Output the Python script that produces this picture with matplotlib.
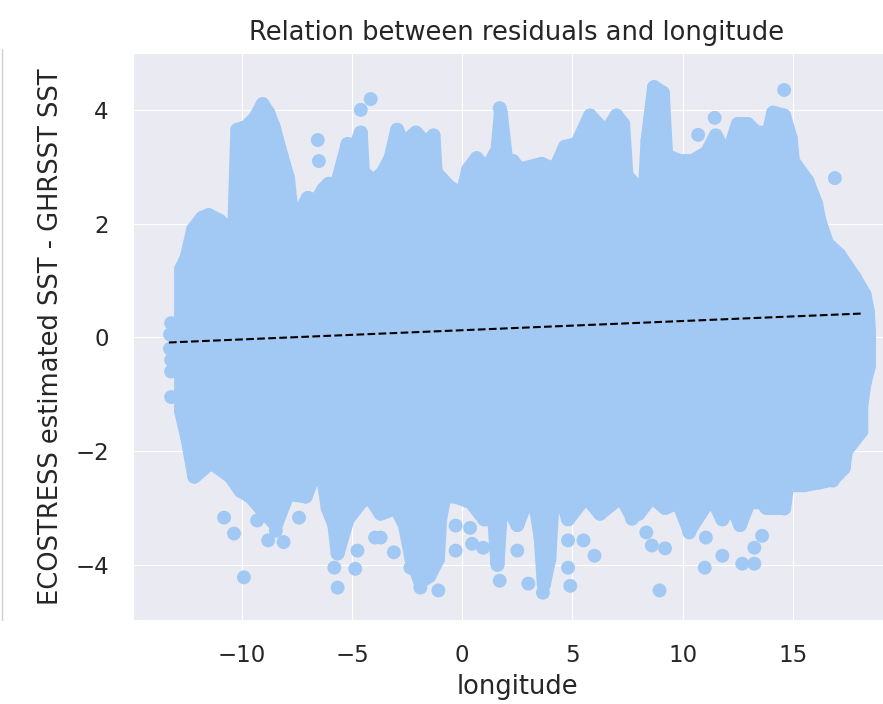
import matplotlib
matplotlib.use("Agg")
import matplotlib.pyplot as plt
import seaborn as sns

# upper edge of the dense point cloud (longitude, residual), west -> east
upper_lon = [-12.75, -12.5, -12.2, -11.8, -11.5, -11.0, -10.6, -10.35, -10.2, -9.8,
             -9.4, -9.05, -8.8, -8.55, -8.2, -7.9, -7.75, -7.5, -7.0, -6.6,
             -6.3, -6.05, -5.9, -5.5, -5.2, -4.9, -4.6, -4.5, -4.0, -3.6,
             -3.25, -2.95, -2.7, -2.1, -1.6, -1.3, -1.2, -0.6, 0.0, 0.27,
             0.66, 1.1, 1.6, 1.75, 2.0, 2.3, 2.6, 3.6, 4.2, 4.66,
             5.2, 5.8, 6.15, 6.5, 7.0, 7.3, 7.45, 7.9, 8.3, 8.4,
             8.7, 9.1, 9.25, 9.85, 10.45, 11.1, 11.5, 12.0, 12.5, 12.95,
             13.35, 13.9, 14.1, 14.6, 14.9, 15.0, 15.65, 16.05, 16.2, 16.55,
             17.1, 17.8, 18.25, 18.4, 18.45]
upper_val = [1.2, 1.4, 1.9, 2.1, 2.15, 2.05, 1.9, 1.8, 3.65, 3.7,
             3.85, 4.1, 3.95, 3.7, 3.2, 2.8, 2.25, 2.1, 2.45, 2.4,
             2.6, 2.7, 2.4, 2.95, 3.4, 3.3, 3.6, 2.9, 2.75, 2.9,
             3.15, 3.65, 3.4, 3.6, 3.4, 3.55, 2.9, 2.65, 2.5, 2.95,
             3.15, 2.95, 3.3, 3.95, 3.1, 3.1, 2.95, 3.05, 2.95, 3.35,
             3.4, 3.9, 3.75, 3.6, 3.9, 3.75, 2.85, 2.65, 2.7, 3.45,
             4.4, 4.3, 3.2, 3.1, 3.1, 3.25, 3.55, 3.15, 3.75, 3.75,
             3.6, 3.6, 3.95, 3.9, 3.5, 3.1, 2.75, 2.35, 2.05, 1.65,
             1.45, 1.05, 0.75, 0.45, 0.1]

# lower edge of the dense point cloud, east -> west
lower_lon = [18.45, 18.25, 18.1, 18.1, 17.4, 17.3, 16.8, 16.2, 15.5, 14.75,
             14.6, 13.8, 13.6, 13.0, 12.6, 12.2, 11.8, 11.3, 10.3, 9.8,
             9.2, 8.6, 8.0, 7.7, 7.2, 6.25, 5.6, 4.8, 4.5, 4.1,
             3.95, 3.7, 3.55, 3.3, 2.8, 2.5, 2.0, 1.75, 1.6, 1.45,
             1.0, 0.4, -0.3, -0.8, -1.0, -1.1, -1.5, -1.9, -2.3, -2.6,
             -3.0, -3.7, -4.2, -4.6, -5.2, -5.65, -5.8, -6.1, -6.35, -6.8,
             -7.1, -7.9, -8.45, -9.15, -9.6, -10.05, -10.5, -11.4, -12.15, -12.45,
             -12.75]
lower_val = [-0.5, -0.8, -1.2, -1.65, -2.0, -2.3, -2.5, -2.55, -2.6, -2.6,
             -3.0, -3.0, -2.9, -2.9, -3.3, -2.9, -3.2, -2.8, -3.4, -2.9,
             -3.0, -2.8, -3.1, -3.15, -2.8, -3.1, -2.8, -3.2, -2.8, -2.9,
             -3.9, -4.35, -3.5, -2.9, -3.0, -3.3, -2.9, -3.1, -4.0, -3.2,
             -3.2, -2.9, -2.8, -2.8, -3.2, -3.9, -4.2, -4.3, -3.9, -3.3,
             -3.0, -3.1, -2.8, -2.9, -3.2, -3.8, -3.3, -3.0, -2.35, -2.5,
             -2.8, -2.75, -3.3, -3.0, -2.8, -2.7, -2.45, -2.2, -2.45, -1.8,
             -1.3]

# scattered points outside the main cloud
outlier_lon = [-13.2, -13.25, -13.25, -13.2, -13.2, -13.2,
               -6.55, -6.5, -4.15, -4.6, 1.7, 10.7, 11.45, 14.6, 16.9,
               -10.8, -10.35, -9.9, -9.3, -8.8, -8.1, -8.45, -7.4, -5.8, -5.65,
               -4.85, -4.75, -3.95, -3.7, -3.1, -2.35, -1.9, -1.08, -1.13, -0.3,
               -0.3, 0.36, 0.45, 0.95, 1.7, 2.5, 3.0, 3.66, 4.8, 4.9,
               4.8, 5.5, 6.0, 7.7, 8.35, 8.6, 9.2, 8.95, 10.3, 11.05,
               11.0, 11.8, 12.7, 13.25, 13.25, 13.6, 14.6, 16.8, 17.3]
outlier_val = [0.25, 0.05, -0.2, -0.4, -0.6, -1.05,
               3.47, 3.1, 4.19, 4.0, 4.03, 3.56, 3.86, 4.35, 2.8,
               -3.17, -3.45, -4.22, -3.22, -3.57, -3.6, -3.4, -3.17, -4.05, -4.4,
               -4.07, -3.75, -3.52, -3.52, -3.78, -4.05, -4.4, -4.45, -3.87, -3.31,
               -3.75, -3.35, -3.63, -3.7, -4.28, -3.75, -4.33, -4.49, -4.05, -4.37,
               -3.57, -3.57, -3.84, -3.19, -3.43, -3.66, -3.71, -4.45, -3.43, -3.52,
               -4.05, -3.84, -3.98, -3.98, -3.7, -3.49, -3.01, -2.52, -2.29]

# linear fit of residual against longitude
fit_lon = [-13.3, 18.2]
fit_val = [-0.09, 0.42]

sns.set_style("darkgrid")
point_color = "#a1c9f4"
text_color = ".15"

fig = plt.figure(figsize=(8.83, 7.04), dpi=100)
ax = fig.add_axes([133 / 883, 84 / 704, 768 / 883, 567 / 704])

# dense cloud: polygon stroked with a marker-wide round pen so the edge
# looks like the outer row of circles
cloud_lon = upper_lon + lower_lon
cloud_val = upper_val + lower_val
ax.fill(cloud_lon, cloud_val, facecolor=point_color, edgecolor=point_color,
        linewidth=10, joinstyle="round", zorder=2)
ax.scatter(cloud_lon, cloud_val, s=100, color=point_color, edgecolors="none", zorder=2)
ax.scatter(outlier_lon, outlier_val, s=100, color=point_color, edgecolors="none", zorder=2)

ax.plot(fit_lon, fit_val, "k--", linewidth=1.5, zorder=3)

ax.set_xlim(-14.93, 19.9)
ax.set_ylim(-4.97, 5.0)
ax.set_xticks([-10, -5, 0, 5, 10, 15])
ax.set_yticks([-4, -2, 0, 2, 4])
ax.tick_params(labelsize=16.5, colors=text_color, pad=14)
ax.set_xlabel("longitude", fontsize=18.5, color=text_color, labelpad=5)
ax.set_ylabel("ECOSTRESS estimated SST - GHRSST SST", fontsize=18.5, color=text_color, labelpad=8)
ax.set_title("Relation between residuals and longitude", fontsize=18.5, color=text_color, pad=9)

# thin frame line on the far left edge
fig.add_artist(plt.Line2D([0.002, 0.002], [84 / 704, 655 / 704], color="#d0d0d0", linewidth=1))

fig.savefig("out.png", dpi=100)
